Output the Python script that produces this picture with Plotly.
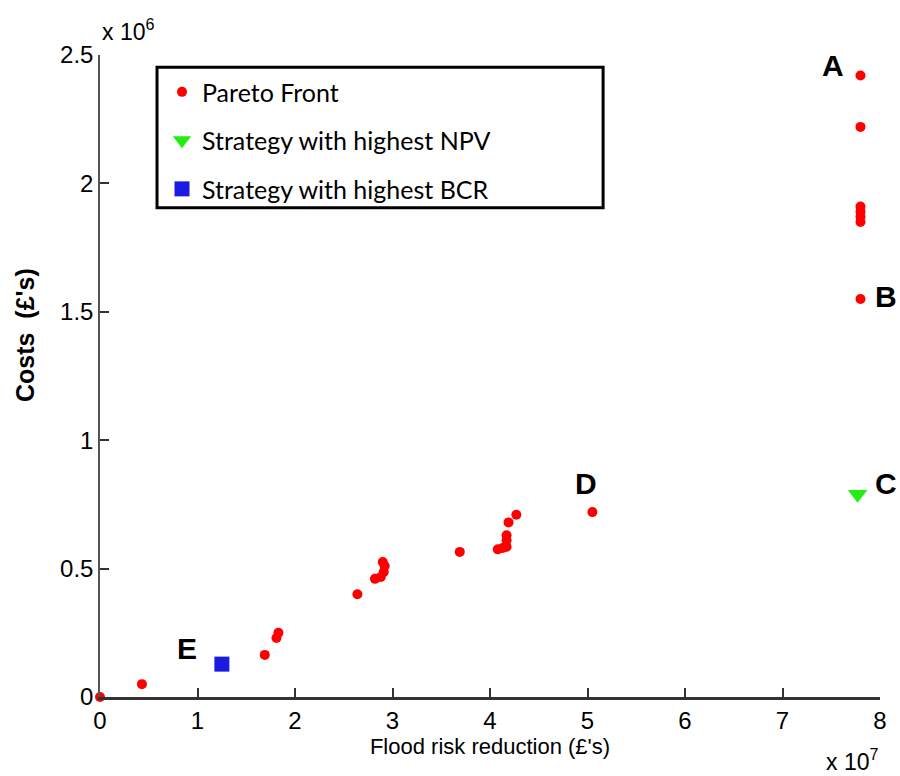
import plotly.graph_objects as go

# Data (real units)
pareto_x = [0, 0.43, 1.69, 1.81, 1.83, 2.64, 2.82, 2.88, 2.91, 2.92, 2.90, 3.69,
            4.08, 4.13, 4.17, 4.17, 4.17, 4.19, 4.27, 5.05,
            7.80, 7.80, 7.80, 7.80, 7.80, 7.80, 7.80]
pareto_y = [0, 0.05, 0.164, 0.23, 0.25, 0.40, 0.46, 0.467, 0.487, 0.51, 0.526, 0.565,
            0.575, 0.58, 0.585, 0.61, 0.63, 0.68, 0.71, 0.72,
            1.55, 1.85, 1.87, 1.89, 1.91, 2.22, 2.42]
pareto_x = [v * 1e7 for v in pareto_x]
pareto_y = [v * 1e6 for v in pareto_y]

npv_x = [7.77e7]
npv_y = [0.79e6]
bcr_x = [1.25e7]
bcr_y = [0.128e6]

labels = ["A", "B", "C", "D", "E"]
label_x = [7.52e7, 7.80e7, 7.80e7, 4.98e7, 0.89e7]
label_y = [2.46e6, 1.56e6, 0.83e6, 0.83e6, 0.19e6]
label_shift = [0, 25, 25, 0, 0]

x_ticks = [0, 1, 2, 3, 4, 5, 6, 7, 8]
y_ticks = [0, 0.5, 1, 1.5, 2, 2.5]

FONT = "Liberation Sans, Arial, sans-serif"
LEG_FONT = "Lato, Noto Sans, sans-serif"

fig = go.Figure()
fig.add_trace(go.Scatter(x=pareto_x, y=pareto_y, mode="markers", name="Pareto Front",
                         legendgroup="a",
                         marker=dict(color="#ff0000", size=10, symbol="circle"),
                         cliponaxis=False))
fig.add_trace(go.Scatter(x=npv_x, y=npv_y, mode="markers", name="Strategy with highest NPV",
                         legendgroup="b",
                         marker=dict(color="#22ee11", size=17, symbol="triangle-down"),
                         cliponaxis=False))
fig.add_trace(go.Scatter(x=bcr_x, y=bcr_y, mode="markers", name="Strategy with highest BCR",
                         legendgroup="c",
                         marker=dict(color="#1a1ae0", size=15, symbol="square"),
                         cliponaxis=False))

for t, lx, ly, sh in zip(labels, label_x, label_y, label_shift):
    fig.add_annotation(x=lx, y=ly, text="<b>%s</b>" % t, showarrow=False, xshift=sh,
                       font=dict(family=FONT, size=30, color="black"))

fig.add_annotation(xref="paper", yref="paper", x=0.0, y=1.0, yanchor="bottom",
                   xanchor="left", yshift=8,
                   text="x 10<sup>6</sup>", showarrow=False,
                   font=dict(family=FONT, size=23, color="black"))
fig.add_annotation(xref="paper", yref="paper", x=1.0, y=0, yanchor="top",
                   xanchor="right", yshift=-46,
                   text="x 10<sup>7</sup>", showarrow=False,
                   font=dict(family=FONT, size=23, color="black"))

# y-axis title
fig.add_annotation(xref="paper", yref="paper", x=-0.096, y=0.564,
                   xanchor="center", yanchor="middle", textangle=-90,
                   text="<b>Costs  (£'s)</b>", showarrow=False,
                   font=dict(family=FONT, size=25, color="black"))

# legend frame
fig.add_shape(type="rect", xref="paper", yref="paper",
              x0=0.0731, x1=0.645, y0=0.762, y1=0.981,
              line=dict(color="black", width=3), fillcolor="white", layer="above")

fig.update_layout(
    width=900, height=776,
    margin=dict(l=100, r=20, t=55, b=79),
    paper_bgcolor="white", plot_bgcolor="white",
    font=dict(family=FONT, size=22, color="black"),
    legend=dict(x=0.0795, y=0.978, xanchor="left", yanchor="top",
                borderwidth=0, bgcolor="rgba(0,0,0,0)",
                font=dict(family=LEG_FONT, size=25, color="black"),
                tracegroupgap=13, itemwidth=30),
    xaxis=dict(range=[0, 8e7], tickvals=[v * 1e7 for v in x_ticks],
               ticktext=[str(v) for v in x_ticks],
               ticks="inside", ticklen=9, tickcolor="#333", tickwidth=1.5,
               showline=True, linecolor="#333", linewidth=2.5, mirror=False,
               showgrid=False, zeroline=False,
               tickfont=dict(size=24),
               title=dict(text="Flood risk reduction (£'s)", standoff=6,
                          font=dict(size=22))),
    yaxis=dict(range=[0, 2.5e6], tickvals=[v * 1e6 for v in y_ticks],
               ticktext=[str(v) for v in y_ticks],
               ticks="inside", ticklen=9, tickcolor="#333", tickwidth=1.5,
               showline=True, linecolor="#555", linewidth=1.5, mirror=False,
               showgrid=False, zeroline=False,
               tickfont=dict(size=24)),
)

fig.write_html("out.html", config={"displayModeBar": False},
               post_script="document.body.style.margin='0';document.body.style.overflow='hidden';")
